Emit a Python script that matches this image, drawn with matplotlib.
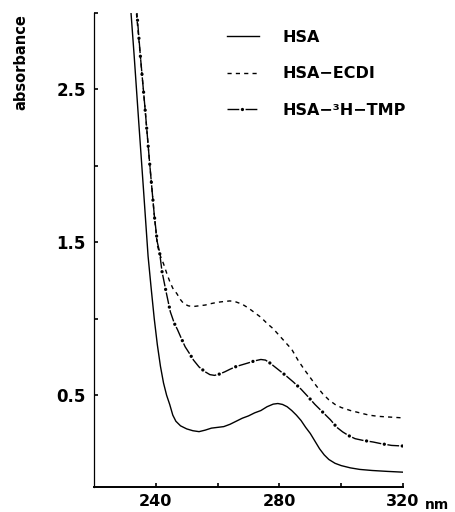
import matplotlib
matplotlib.use("Agg")
import matplotlib.pyplot as plt

plt.rcParams['font.family'] = ['DejaVu Sans']
plt.rcParams['lines.scale_dashes'] = False

# absorbance spectra (wavelength in nm)
wl_hsa = [231.8, 233, 234.5, 236, 237.5, 238.5, 239.5, 240.5, 241.5, 242.5,
          243.5, 244.5, 245.5, 246.5, 248, 250, 252, 254, 256, 258, 260, 262,
          264, 266, 268, 270, 272, 274, 276, 278, 279.5, 281, 282.5, 284,
          285.5, 287, 288.5, 290, 291.5, 293, 294.5, 296, 298, 300, 303, 306,
          310, 315, 320]
abs_hsa = [3.05, 2.72, 2.28, 1.85, 1.41, 1.20, 1.00, 0.83, 0.69, 0.58,
           0.50, 0.44, 0.37, 0.33, 0.30, 0.28, 0.268, 0.262, 0.272, 0.285, 0.29,
           0.295, 0.31, 0.33, 0.35, 0.365, 0.385, 0.40, 0.425, 0.442, 0.446,
           0.44, 0.425, 0.40, 0.37, 0.335, 0.29, 0.25, 0.20, 0.15, 0.11, 0.08,
           0.055, 0.04, 0.025, 0.015, 0.008, 0.002, -0.003]

wl_ecdi = [233.5, 235, 236.5, 238, 239.5, 240.5, 241.5, 242.5, 243.5, 244.5,
           245.5, 246.8, 248, 249, 250.5, 252, 254, 256, 258, 260, 262, 264,
           266, 268, 270, 272, 274, 276, 278, 280, 282, 284, 286, 288, 290,
           292, 294, 296, 298, 300, 303, 306, 309, 312, 316, 320]
abs_ecdi = [3.05, 2.72, 2.38, 2.02, 1.68, 1.48, 1.41, 1.36, 1.30, 1.245,
            1.20, 1.165, 1.125, 1.10, 1.085, 1.08, 1.085, 1.09, 1.10, 1.108,
            1.113, 1.117, 1.11, 1.095, 1.07, 1.04, 1.01, 0.97, 0.935, 0.89,
            0.845, 0.80, 0.73, 0.67, 0.615, 0.56, 0.51, 0.47, 0.44, 0.42, 0.40,
            0.385, 0.37, 0.362, 0.357, 0.352]

wl_tmp = [233.7, 235, 236.5, 238, 239.5, 240.5, 241.2, 242, 243.3, 244.7,
          246, 247, 248.3, 249.5, 251, 252.2, 254, 256, 257.5, 259, 260.5,
          262.3, 264, 266, 268, 270, 272, 274, 275.5, 277, 279.5, 282, 284.5,
          287, 289.3, 291.5, 294, 296.5, 298.6, 300.5, 302.5, 304.5, 307,
          310.4, 313, 316.3, 320]
abs_tmp = [3.05, 2.72, 2.38, 2.02, 1.68, 1.50, 1.44, 1.31, 1.18, 1.046,
           0.97, 0.93, 0.87, 0.817, 0.77, 0.73, 0.685, 0.653, 0.635, 0.63,
           0.638, 0.653, 0.67, 0.688, 0.70, 0.712, 0.725, 0.734, 0.73, 0.71,
           0.67, 0.63, 0.587, 0.54, 0.49, 0.44, 0.39, 0.34, 0.29, 0.26, 0.235,
           0.216, 0.205, 0.194, 0.183, 0.172, 0.168]

xticks = [240, 260, 280, 300, 320]
xlabels = ['240', '', '280', '', '320']
yticks = [0.5, 1.0, 1.5, 2.0, 2.5, 3.0]
ylabels = ['0.5', '', '1.5', '', '2.5', '']

fig = plt.figure(figsize=(4.55, 5.12), dpi=100)
ax = fig.add_axes([94 / 455, 1 - 487 / 512, 309 / 455, 474 / 512])

l1, = ax.plot(wl_hsa, abs_hsa, color='black', lw=1.0)
l2, = ax.plot(wl_ecdi, abs_ecdi, color='black', lw=1.0, ls=(0, (3.0, 3.0)))
# dash-dot with heavy dots: a dashed line plus a dotted overlay in phase
l3a, = ax.plot(wl_tmp, abs_tmp, color='black', lw=1.0, ls=(0, (8.5, 4.5)))
l3b, = ax.plot(wl_tmp, abs_tmp, color='black', lw=2.4,
               ls=(2.25, (0.01, 12.99)), dash_capstyle='round')

ax.set_xlim(220, 320)
ax.set_ylim(-0.1, 3.0)

for s in ['top', 'right']:
    ax.spines[s].set_visible(False)
ax.spines['left'].set_linewidth(0.9)
ax.spines['bottom'].set_linewidth(1.4)

ax.set_xticks(xticks)
ax.set_xticklabels(xlabels)
ax.set_yticks(yticks)
ax.set_yticklabels(ylabels)
ax.tick_params(direction='in', length=3, width=1.2)
ax.tick_params(axis='x', pad=5, labelsize=11.5)
ax.tick_params(axis='y', pad=6, labelsize=12)
for t in ax.get_xticklabels() + ax.get_yticklabels():
    t.set_fontweight('bold')

ax.annotate('nm', xy=(320, -0.1), xycoords='data', xytext=(16, -8),
            textcoords='offset points', ha='left', va='top',
            fontsize=10, fontweight='bold')

fig.text(21 / 455, 1 - 62 / 512, 'absorbance', rotation=90, ha='center',
         va='center', fontsize=10.5, fontweight='bold')

ax.legend([l1, l2, (l3a, l3b)], ['HSA', 'HSA\u2212ECDI', 'HSA\u2212\u00b3H\u2212TMP'],
          loc='upper left', bbox_to_anchor=(0.43, 0.964), frameon=False,
          borderpad=0, borderaxespad=0, handlelength=2.0, handletextpad=1.5,
          labelspacing=1.33, prop={'size': 11.5, 'weight': 'bold'})

fig.savefig('out.png', dpi=100)
